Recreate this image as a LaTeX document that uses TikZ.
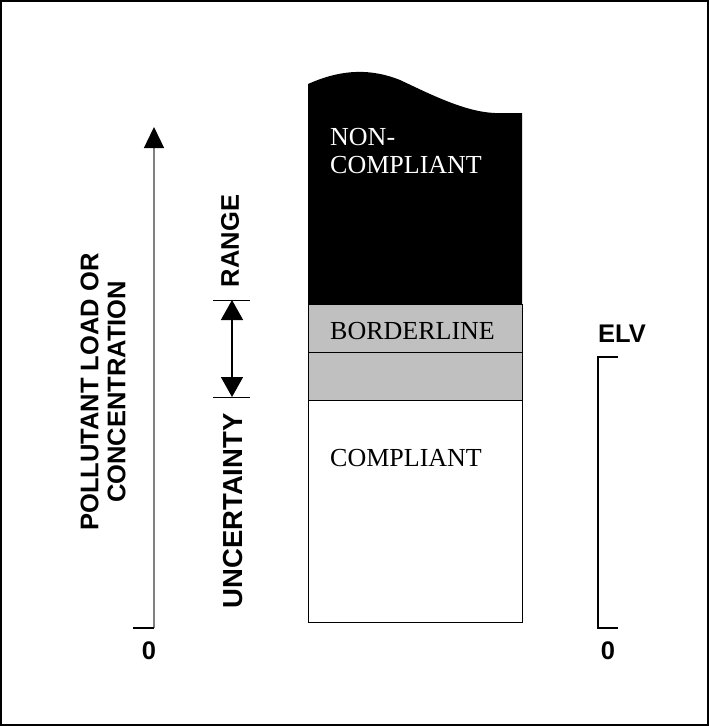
\documentclass[tikz,border=0pt]{standalone}
\usepackage{fontspec}
\setmainfont{Liberation Serif}
\setsansfont{Liberation Sans}
\usetikzlibrary{arrows.meta,positioning}
\definecolor{bandgray}{RGB}{192,192,192}
\tikzset{
    lbl/.style={font=\fontsize{25.5}{27}\selectfont\sffamily\bfseries, inner sep=0pt},
    zone/.style={font=\fontsize{26}{28}\selectfont, inner sep=0pt, anchor=base west},
}
\begin{document}
\begin{tikzpicture}[x=1pt,y=-1pt]
    \useasboundingbox (0,0) rectangle (709,726);
    % Frame
    \draw[line width=1.5pt] (1,1) rectangle (708,725);

    % Axis
    \coordinate (axbot) at (154,628);
    \coordinate (axtop) at (154,127);
    \coordinate (axtick) at (133,628);
    \draw[gray, line width=1.3pt, -{Triangle[length=21pt,width=20pt,black]}] (axbot) -- (axtop);
    \draw[line width=1.5pt] (axtick) -- (axbot);
    \node[lbl] (zeroL) at (149,651) {0};
    \node[lbl, rotate=90, align=center] (axlbl) at (103,392) {POLLUTANT LOAD OR\\CONCENTRATION};

    % Uncertainty range
    \coordinate (rtop) at (232,300);
    \coordinate (rbot) at (232,397);
    \draw (213,300) -- (250,300);
    \draw (213,397) -- (250,397);
    \draw[line width=1.5pt, {Triangle[length=20pt,width=22pt]}-{Triangle[length=20pt,width=22pt]}] (rtop) -- (rbot);
    \node[lbl, rotate=90] (range) at (230,241) {RANGE};
    \node[lbl, rotate=90, font=\fontsize{27.5}{29}\selectfont\sffamily\bfseries] (uncert) at (233,511) {UNCERTAINTY};

    % Zones
    \fill (308,304) -- (308,84) .. controls (335,72) and (365,66) .. (400,80)
        .. controls (430,94) and (465,112) .. (495,113) -- (522,113) -- (522,304) -- cycle;
    \filldraw[fill=bandgray, draw=black] (308,304) rectangle (522,400);
    \draw (308,352) -- (522,352);
    \draw (308,400) rectangle (522,622);
    \node[zone, text=white] (non) at (330,145) {NON-};
    \node[zone, text=white] (noncomp) at (330,173) {COMPLIANT};
    \node[zone] (border) at (330,339) {BORDERLINE};
    \node[zone] (comp) at (330,466) {COMPLIANT};

    % Limit value
    \draw[line width=1.2pt] (618,357) -- (598,357) -- (598,628) -- (618,628);
    \node[lbl] (elv) at (622,334) {ELV};
    \node[lbl] (zeroR) at (608,651) {0};
\end{tikzpicture}
\end{document}
